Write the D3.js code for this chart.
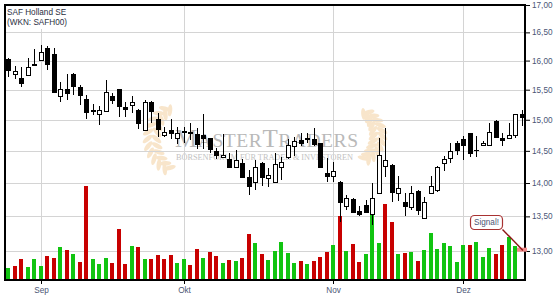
<!DOCTYPE html>
<html><head><meta charset="utf-8">
<script src="https://cdn.jsdelivr.net/npm/d3@7"></script>
<style>html,body{margin:0;padding:0;background:#fff;} svg{display:block;}</style>
</head><body>
<svg id="c" width="555" height="300"></svg>
<script>
// ---- data ----
const dates = [
"2014-08-25","2014-08-26","2014-08-27","2014-08-28","2014-08-29",
"2014-09-01","2014-09-02","2014-09-03","2014-09-04","2014-09-05","2014-09-08","2014-09-09","2014-09-10","2014-09-11","2014-09-12",
"2014-09-15","2014-09-16","2014-09-17","2014-09-18","2014-09-19","2014-09-22","2014-09-23","2014-09-24","2014-09-25","2014-09-26",
"2014-09-29","2014-09-30",
"2014-10-01","2014-10-02","2014-10-03","2014-10-06","2014-10-07","2014-10-08","2014-10-09","2014-10-10","2014-10-13","2014-10-14",
"2014-10-15","2014-10-16","2014-10-17","2014-10-20","2014-10-21","2014-10-22","2014-10-23","2014-10-24","2014-10-27","2014-10-28",
"2014-10-29","2014-10-30","2014-10-31",
"2014-11-03","2014-11-04","2014-11-05","2014-11-06","2014-11-07","2014-11-10","2014-11-11","2014-11-12","2014-11-13","2014-11-14",
"2014-11-17","2014-11-18","2014-11-19","2014-11-20","2014-11-21","2014-11-24","2014-11-25","2014-11-26","2014-11-27","2014-11-28",
"2014-12-01","2014-12-02","2014-12-03","2014-12-04","2014-12-05","2014-12-08","2014-12-09","2014-12-10","2014-12-11","2014-12-12"];
const open = [16.02,15.76,15.70,15.75,15.94,16.01,16.22,16.11,15.39,15.51,15.77,15.54,15.34,15.16,15.09,15.14,15.40,15.51,15.21,15.25,
15.16,14.84,15.30,15.02,14.75,14.84,14.70,14.80,14.80,14.77,14.75,14.70,14.49,14.40,14.37,14.24,14.31,14.10,14.02,14.31,
14.07,14.02,14.24,14.40,14.58,14.67,14.70,14.69,14.62,14.16,14.11,14.02,13.65,13.76,13.58,13.67,13.53,13.85,14.26,14.28,
13.85,13.71,13.64,13.88,13.47,13.85,13.90,14.31,14.38,14.62,14.69,14.78,14.51,14.59,14.60,14.98,14.71,14.70,14.75,15.09];
const high = [16.04,15.91,15.88,16.04,16.21,16.28,16.25,16.22,15.63,15.77,15.78,15.58,15.41,15.26,15.22,15.67,15.44,15.52,15.30,15.40,
15.17,15.33,15.31,15.11,14.88,15.01,14.89,14.88,14.94,14.86,15.10,14.71,14.54,14.77,14.47,14.52,14.37,14.20,14.36,14.32,
14.23,14.46,14.40,14.69,14.72,14.78,14.78,14.86,14.63,14.38,14.33,14.03,13.82,13.77,13.65,13.75,14.00,14.70,14.86,14.29,
14.11,13.85,13.96,13.89,13.79,14.11,14.26,14.42,14.62,14.65,14.73,14.79,14.73,14.65,14.94,14.99,14.79,14.95,15.10,15.16];
const low = [15.72,15.69,15.55,15.74,15.91,16.00,15.83,15.44,15.30,15.33,15.41,15.25,15.01,15.08,14.92,15.13,15.26,15.04,15.05,15.11,
14.85,14.83,14.94,14.72,14.72,14.69,14.61,14.62,14.67,14.53,14.53,14.47,14.37,14.39,14.23,14.23,14.09,13.82,13.90,13.96,
13.94,14.00,14.05,14.37,14.42,14.58,14.63,14.57,14.24,14.02,14.02,13.42,13.60,13.55,13.50,13.55,13.38,13.84,14.10,13.72,
13.73,13.50,13.60,13.52,13.46,13.84,13.87,14.18,14.31,14.43,14.35,14.40,14.41,14.57,14.59,14.71,14.58,14.69,14.70,14.90];
const close = [15.83,15.82,15.62,15.88,15.92,16.15,15.94,15.46,15.52,15.44,15.57,15.41,15.12,15.14,15.16,15.46,15.32,15.22,15.18,15.30,
14.95,15.30,15.15,14.85,14.80,14.78,14.79,14.81,14.79,14.61,14.70,14.53,14.43,14.44,14.24,14.36,14.10,13.96,14.24,14.09,
14.12,14.30,14.32,14.59,14.65,14.62,14.69,14.61,14.25,14.11,14.19,13.72,13.77,13.57,13.54,13.57,13.77,14.43,14.36,13.87,
13.92,13.66,13.85,13.60,13.72,13.96,14.25,14.37,14.50,14.51,14.60,14.47,14.52,14.62,14.80,14.72,14.68,14.75,15.09,15.04];
// volume in thousand shares
const volume = [36,42,63,39,63,42,72,66,99,90,78,54,282,63,48,66,51,153,48,102,
99,63,63,75,63,75,51,63,45,93,66,84,72,51,60,57,66,138,111,78,
60,87,114,81,51,57,48,57,69,84,105,192,87,108,54,78,201,111,228,174,
78,81,84,57,90,141,93,111,102,54,105,105,114,69,96,78,105,129,102,0];
const priceTicks = [13,13.5,14,14.5,15,15.5,16,16.5,17];
const monthTickDates = ["2014-09-01","2014-10-01","2014-11-03","2014-12-01"];
const monthTickLabels = ["Sep","Okt","Nov","Dez"];
const titleLines = ["SAF Holland SE","(WKN: SAFH00)"];
const signalText = "Signal!";
const signalPrice = 13.0;

// ---- layout ----
const L = 5, R = 525, T = 5, B = 280;
const svg = d3.select("#c");
const x = d3.scaleBand().domain(dates).range([L, R]).padding(0);
const y = d3.scaleLog().domain([12.595, 17]).range([B, T]);
const yv = d3.scaleLinear().domain([0, 300]).range([B, B - 100]);
const cx = d => Math.round(x(d) + x.bandwidth() / 2);
const fmt = v => d3.format(".2f")(v).replace(".", ",");
const tickColor = "#4b5675";
const font = "'Liberation Sans', Arial, sans-serif";

svg.append("rect").attr("width", 555).attr("height", 300).attr("fill", "#fff");

// ---- watermark ----
const wm = svg.append("g");
function laurel(cxp, cyp, r, dir) {
  const g = wm.append("g").attr("fill", "#f2cd98").attr("opacity", 0.5);
  for (let a = -55; a <= 55; a += 11) {
    const t = a * Math.PI / 180;
    const px = cxp - dir * r * Math.cos(t), py = cyp + r * Math.sin(t);
    const ang = (dir > 0 ? 180 : 0) + (dir > 0 ? -1 : 1) * a;
    [-1, 1].forEach(s => {
      const off = 5;
      const lx = px - dir * s * off * Math.cos(t) * 0.9;
      const ly = py + s * off * Math.sin(t) * 0.2 - 3;
      g.append("ellipse").attr("cx", lx).attr("cy", ly).attr("rx", 6).attr("ry", 2.3)
        .attr("transform", `rotate(${ang + s * 40 * dir * -1},${lx},${ly})`);
    });
  }
}
laurel(188, 142, 36, 1);
laurel(350, 139, 28, -1);
const wt = wm.append("text").attr("x", 175).attr("y", 147)
  .attr("font-family", "'Liberation Serif','DejaVu Serif',serif").attr("fill", "#b9b9b9")
  .attr("textLength", 183).attr("lengthAdjust", "spacing");
[["M",25],["ASTER",19.5],["T",25],["RADERS",19.5]].forEach(([s, f]) =>
  wt.append("tspan").attr("font-size", f).text(s));
wm.append("text").attr("x", 176).attr("y", 160)
  .attr("font-family", "'Liberation Serif','DejaVu Serif',serif").attr("fill", "#c2c2c2")
  .attr("font-size", 8.3).attr("textLength", 177).attr("lengthAdjust", "spacing")
  .text("BÖRSENFORUM FÜR TRADER & INVESTOREN");

// ---- grid ----
const grid = svg.append("g").attr("stroke", "#d4d4d4").attr("stroke-width", 1).attr("shape-rendering", "crispEdges");
grid.selectAll("line.h").data(priceTicks).join("line")
  .attr("x1", L).attr("x2", R).attr("y1", d => Math.round(y(d)) + 0.5).attr("y2", d => Math.round(y(d)) + 0.5);
grid.selectAll("line.v").data(monthTickDates).join("line")
  .attr("x1", d => cx(d) + 0.5).attr("x2", d => cx(d) + 0.5).attr("y1", T).attr("y2", B);

// ---- volume ----
const vols = dates.map((d, i) => ({d, v: volume[i], up: i === 0 ? true : close[i] >= close[i - 1]})).filter(o => o.v > 0);
svg.append("g").attr("shape-rendering", "crispEdges").selectAll("rect").data(vols).join("rect")
  .attr("x", o => cx(o.d) - 2).attr("width", 4)
  .attr("y", o => yv(o.v)).attr("height", o => B - yv(o.v))
  .attr("fill", o => o.up ? "#11c411" : "#c80000");

// ---- candles ----
const cg = svg.append("g").attr("stroke", "#000").attr("stroke-width", 1).attr("shape-rendering", "crispEdges");
dates.forEach((d, i) => {
  const c = cx(d);
  const o = open[i], h = high[i], l = low[i], cl = close[i];
  cg.append("line").attr("x1", c + 0.5).attr("x2", c + 0.5).attr("y1", y(h)).attr("y2", y(l));
  const yt = Math.round(y(Math.max(o, cl))), yb = Math.round(y(Math.min(o, cl)));
  if (yb - yt < 2) {
    cg.append("line").attr("x1", c - 2).attr("x2", c + 3).attr("y1", yt + 0.5).attr("y2", yt + 0.5).attr("stroke-width", yb - yt >= 1 ? 2 : 1);
  } else {
    cg.append("rect").attr("x", c - 2 + 0.5).attr("y", yt + 0.5).attr("width", 4).attr("height", yb - yt)
      .attr("fill", cl >= o ? "#fff" : "#000");
  }
});

// ---- frame & axes ----
const fr = svg.append("g").attr("stroke", "#000").attr("fill", "none").attr("shape-rendering", "crispEdges");
fr.append("rect").attr("x", L).attr("y", T).attr("width", R - L).attr("height", B - T).attr("stroke-width", 1.6);
const yAxis = d3.axisRight(y).tickValues(priceTicks).tickFormat(fmt).tickSize(5).tickPadding(2);
const ya = svg.append("g").attr("transform", `translate(${R},0)`).call(yAxis);
ya.select(".domain").remove();
ya.selectAll("text").attr("font-family", font).attr("font-size", 8.2).attr("fill", tickColor);
const xAxis = d3.axisBottom(x).tickValues(monthTickDates).tickFormat((d, i) => monthTickLabels[i]).tickSize(4).tickPadding(3);
const xa = svg.append("g").attr("transform", `translate(0,${B})`).call(xAxis);
xa.select(".domain").remove();
xa.selectAll(".tick").attr("transform", d => `translate(${cx(d) + 0.5},0)`);
xa.selectAll("text").attr("font-family", font).attr("font-size", 8.2).attr("fill", tickColor);

// ---- legend ----
svg.append("rect").attr("x", 6).attr("y", 6).attr("width", 68).attr("height", 23).attr("fill", "#fff");
svg.append("g").selectAll("text").data(titleLines).join("text")
  .attr("x", 7).attr("y", (d, i) => 15 + i * 10).attr("font-family", font).attr("font-size", 8.2)
  .attr("fill", "#2a2e3e").text(d => d);

// ---- signal ----
const last = dates[dates.length - 1];
const sy = y(signalPrice);
svg.append("rect").attr("x", cx(last) - 5).attr("y", sy - 3.3).attr("width", 10).attr("height", 4).attr("fill", "#f28b8b");
svg.append("line").attr("x1", 502.5).attr("y1", sy - 21.5).attr("x2", cx(last) + 1).attr("y2", sy - 0.5)
  .attr("stroke", "#8e1515").attr("stroke-width", 1.4);
svg.append("rect").attr("x", 470.5).attr("y", sy - 35.5).attr("width", 32).attr("height", 14).attr("rx", 4)
  .attr("fill", "#fff").attr("stroke", "#a83232").attr("stroke-width", 1.2);
svg.append("text").attr("x", 486.5).attr("y", sy - 25.5).attr("text-anchor", "middle")
  .attr("font-family", font).attr("font-size", 8.2).attr("fill", "#4b5675").text(signalText);
</script>
</body></html>
